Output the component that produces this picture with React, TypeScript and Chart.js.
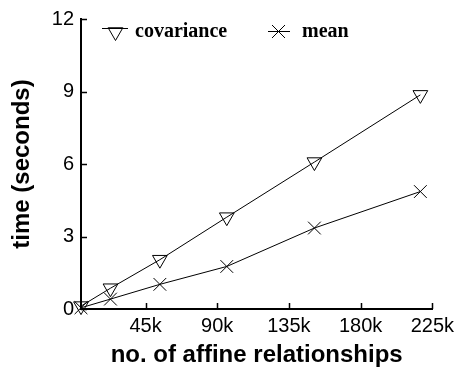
import React, { useEffect, useRef } from "react";
import { Chart, registerables } from "chart.js";

Chart.register(...registerables);

const xValues = [4500, 23000, 54000, 96000, 151000, 217500];
const covariance = [0.12, 0.86, 2.04, 3.8, 6.08, 8.86];
const mean = [0.05, 0.41, 1.02, 1.76, 3.35, 4.86];
const xTicks = [45000, 90000, 135000, 180000, 225000];
const yTicks = [0, 3, 6, 9, 12];
const seriesNames = ["covariance", "mean"];

function drawMarker(ctx: CanvasRenderingContext2D, style: string, x: number, y: number) {
  ctx.save();
  ctx.strokeStyle = "#000";
  ctx.lineWidth = 1;
  ctx.beginPath();
  if (style === "tri") {
    const r = 8.5;
    ctx.moveTo(x - r * 0.866, y - r * 0.5);
    ctx.lineTo(x + r * 0.866, y - r * 0.5);
    ctx.lineTo(x, y + r);
    ctx.closePath();
  } else {
    const a = 6.5;
    ctx.moveTo(x - a, y - a);
    ctx.lineTo(x + a, y + a);
    ctx.moveTo(x + a, y - a);
    ctx.lineTo(x - a, y + a);
  }
  ctx.stroke();
  ctx.restore();
}

const decorPlugin = {
  id: "decor",
  afterDraw(chart: any) {
    const ctx = chart.ctx as CanvasRenderingContext2D;
    const { left, bottom } = chart.chartArea;
    const xs = chart.scales.x;
    const ys = chart.scales.y;
    ctx.save();
    ctx.strokeStyle = "#000";
    ctx.lineWidth = 1.5;
    ctx.beginPath();
    xTicks.forEach((t) => {
      const px = Math.round(xs.getPixelForValue(t)) + 0.5;
      ctx.moveTo(px, bottom);
      ctx.lineTo(px, bottom - 6);
    });
    yTicks.forEach((t) => {
      const py = Math.round(ys.getPixelForValue(t)) + 0.5;
      ctx.moveTo(left, py);
      ctx.lineTo(left + 6, py);
    });
    ctx.stroke();

    // legend
    ctx.lineWidth = 1;
    ctx.beginPath();
    ctx.moveTo(102, 28.5);
    ctx.lineTo(128, 28.5);
    ctx.moveTo(268, 31.5);
    ctx.lineTo(290, 31.5);
    ctx.stroke();
    drawMarker(ctx, "tri", 115.5, 32);
    drawMarker(ctx, "x", 278.5, 31.5);
    ctx.fillStyle = "#000";
    ctx.font = "bold 20px 'Liberation Serif', 'Times New Roman', serif";
    ctx.textBaseline = "alphabetic";
    ctx.textAlign = "left";
    ctx.fillText(seriesNames[0], 135, 37);
    ctx.fillText(seriesNames[1], 302, 37);
    ctx.restore();
  },
};

export default function App() {
  const ref = useRef<HTMLCanvasElement>(null);
  useEffect(() => {
    document.body.style.margin = "0";
    const chart = new Chart(ref.current!, {
      type: "line",
      data: {
        datasets: [
          {
            label: seriesNames[0],
            data: xValues.map((x, i) => ({ x, y: covariance[i] })),
            borderColor: "#000",
            borderWidth: 1,
            pointStyle: "triangle",
            rotation: 180,
            pointRadius: 8.5,
            pointBorderWidth: 1,
            pointBorderColor: "#000",
            pointBackgroundColor: "rgba(0,0,0,0)",
            fill: false,
            clip: false as any,
          },
          {
            label: seriesNames[1],
            data: xValues.map((x, i) => ({ x, y: mean[i] })),
            borderColor: "#000",
            borderWidth: 1,
            pointStyle: "crossRot",
            pointRadius: 9,
            pointBorderWidth: 1,
            pointBorderColor: "#000",
            pointBackgroundColor: "rgba(0,0,0,0)",
            fill: false,
            clip: false as any,
          },
        ],
      },
      options: {
        animation: false,
        responsive: false,
        layout: { padding: { top: 14, right: 24, left: 0, bottom: 0 } },
        plugins: { legend: { display: false }, tooltip: { enabled: false } },
        scales: {
          x: {
            type: "linear",
            min: 4500,
            max: 225000,
            afterBuildTicks: (s: any) => {
              s.ticks = xTicks.map((v) => ({ value: v }));
            },
            afterFit: (s: any) => {
              s.height = 68;
            },
            grid: { display: true, drawOnChartArea: false, drawTicks: false },
            border: { display: true, color: "#000", width: 2 },
            ticks: {
              color: "#000",
              padding: 5,
              font: { family: "'Liberation Sans', Arial, sans-serif", size: 20 },
              callback: (v: any) => Number(v) / 1000 + "k",
              maxRotation: 0,
              autoSkip: false,
            },
            title: {
              display: true,
              text: "no. of affine relationships",
              color: "#000",
              font: { family: "'Liberation Sans', Arial, sans-serif", size: 24, weight: "bold" },
              padding: { top: 0, bottom: 7 },
            },
          },
          y: {
            type: "linear",
            min: 0,
            max: 12,
            afterBuildTicks: (s: any) => {
              s.ticks = yTicks.map((v) => ({ value: v }));
            },
            afterFit: (s: any) => {
              s.width = 81;
            },
            grid: { display: true, drawOnChartArea: false, drawTicks: false },
            border: { display: true, color: "#000", width: 2 },
            ticks: {
              color: "#000",
              padding: 7,
              font: { family: "'Liberation Sans', Arial, sans-serif", size: 20 },
            },
            title: {
              display: true,
              text: "time (seconds)",
              color: "#000",
              font: { family: "'Liberation Sans', Arial, sans-serif", size: 24, weight: "bold" },
              padding: { top: 7.6, bottom: 0 },
            },
          },
        },
      },
      plugins: [decorPlugin],
    });
    return () => chart.destroy();
  }, []);
  return (
    <div style={{ width: 459, height: 377 }}>
      <canvas ref={ref} width={459} height={377} />
    </div>
  );
}
